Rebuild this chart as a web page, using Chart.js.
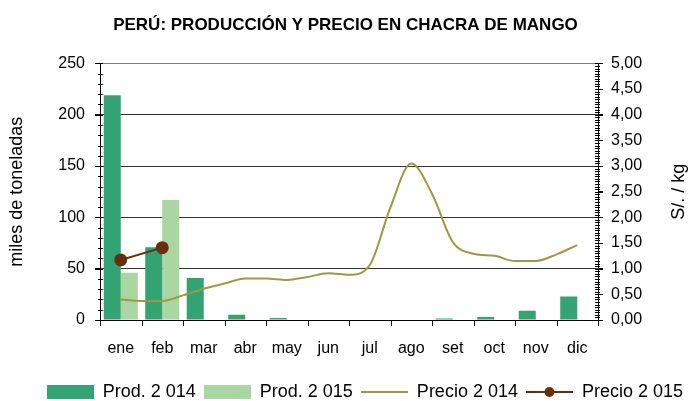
<!DOCTYPE html>
<html>
<head>
<meta charset="utf-8">
<script src="https://cdn.jsdelivr.net/npm/chart.js@4.4.1/dist/chart.umd.min.js"></script>
<style>
html,body{margin:0;padding:0;background:#fff;}
#wrap{width:691px;height:401px;}
</style>
</head>
<body>
<div id="wrap"><canvas id="c" width="691" height="401"></canvas></div>
<script>
// ---- data ----
const months = ['ene','feb','mar','abr','may','jun','jul','ago','set','oct','nov','dic'];
const monthPos = [0, 1, 2, 3, 4, 5, 6, 7, 8, 9, 10, 11];
const prod2014 = [219, 71, 41, 5, 2, 0, 0, 0, 1.5, 3, 9, 23];
const prod2015 = [46, 117, null, null, null, null, null, null, null, null, null, null];
// price 2014: semi-monthly readings (position in months from "ene")
const price2014Pos = [0, 0.5, 1, 1.5, 2, 2.5, 3, 3.5, 4, 4.5, 5, 5.5, 6, 6.5, 7, 7.5, 8, 8.5, 9, 9.5, 10, 10.5, 11];
const price2014 = [0.40, 0.37, 0.37, 0.48, 0.61, 0.71, 0.81, 0.81, 0.78, 0.84, 0.91, 0.88, 1.07, 2.20, 3.05, 2.46, 1.52, 1.29, 1.25, 1.15, 1.15, 1.28, 1.46];
const price2015Pos = [0, 1];
const price2015 = [1.17, 1.41];
const leftTicks = [0, 50, 100, 150, 200, 250];
const rightTicks = ['0,00','0,50','1,00','1,50','2,00','2,50','3,00','3,50','4,00','4,50','5,00'];

const FONT = '"Liberation Sans", Arial, sans-serif';
const C_DARK = '#33a373';
const C_LIGHT = '#aad6a2';
const C_P14 = '#9c9a45';
const C_P15 = '#663010';

function icon(kind, color) {
  const c = document.createElement('canvas');
  c.width = 47; c.height = 14;
  const g = c.getContext('2d');
  if (kind === 'box') {
    g.fillStyle = color; g.fillRect(0, 0, 47, 14);
  } else {
    g.strokeStyle = color; g.lineWidth = 2;
    g.beginPath(); g.moveTo(0, 7); g.lineTo(47, 7); g.stroke();
    if (kind === 'dot') {
      g.fillStyle = color; g.beginPath(); g.arc(23.5, 7, 5, 0, Math.PI * 2); g.fill();
    }
  }
  return c;
}
const icons = [icon('box', C_DARK), icon('box', C_LIGHT), icon('line', C_P14), icon('dot', C_P15)];

const extras = {
  id: 'extras',
  afterDraw(chart) {
    const ctx = chart.ctx;
    const x = chart.scales.x, y = chart.scales.y, y2 = chart.scales.y2, a = chart.chartArea;
    ctx.save();
    ctx.strokeStyle = '#000';
    ctx.lineWidth = 1;
    // x tick marks on category boundaries
    for (let i = 0; i <= months.length; i++) {
      const p = Math.round(x.getPixelForValue(i - 0.5)) + 0.5;
      ctx.beginPath();
      ctx.moveTo(p, a.bottom);
      ctx.lineTo(p, a.bottom + 6);
      ctx.stroke();
    }
    for (let i = 0; i <= 25; i++) {
      const p = Math.round(y.getPixelForValue(i * 10)) + 0.5;
      ctx.beginPath();
      ctx.moveTo(a.left - (i % 5 === 0 ? 5 : 2), p);
      ctx.lineTo(a.left + 3, p);
      ctx.stroke();
    }
    for (let i = 0; i <= 100; i++) {
      const p = Math.round(y2.getPixelForValue(i * 0.05)) + 0.5;
      ctx.beginPath();
      ctx.moveTo(a.right - 3, p);
      ctx.lineTo(a.right + (i % 10 === 0 ? 5 : 2), p);
      ctx.stroke();
    }
    ctx.fillStyle = '#000';
    ctx.font = '18px ' + FONT;
    ctx.textAlign = 'center';
    ctx.textBaseline = 'middle';
    ctx.translate(679, (a.top + a.bottom) / 2);
    ctx.rotate(-Math.PI / 2);
    ctx.fillText('S/. / kg', 0, 0);
    ctx.restore();
  }
};

new Chart(document.getElementById('c'), {
  type: 'bar',
  data: {
    datasets: [
      { label: 'Prod. 2 014', data: prod2014.map((v, i) => ({ x: monthPos[i], y: v })), backgroundColor: C_DARK, yAxisID: 'y', order: 3 },
      { label: 'Prod. 2 015', data: prod2015.map((v, i) => ({ x: monthPos[i], y: v })), backgroundColor: C_LIGHT, yAxisID: 'y', order: 4 },
      { type: 'line', label: 'Precio 2 014', data: price2014.map((v, i) => ({ x: price2014Pos[i], y: v })),
        borderColor: C_P14, backgroundColor: C_P14, borderWidth: 2, pointRadius: 0, cubicInterpolationMode: 'monotone',
        yAxisID: 'y2', order: 2 },
      { type: 'line', label: 'Precio 2 015', data: price2015.map((v, i) => ({ x: price2015Pos[i], y: v })),
        borderColor: C_P15, backgroundColor: C_P15, borderWidth: 2, pointRadius: 5.5, pointHoverRadius: 5.5,
        yAxisID: 'y2', order: 1 }
    ]
  },
  options: {
    responsive: false,
    animation: false,
    layout: { padding: { left: 0, right: 0, top: 0, bottom: -10 } },
    datasets: { bar: { categoryPercentage: 0.82, barPercentage: 1.0 } },
    plugins: {
      tooltip: { enabled: false },
      title: {
        display: true,
        text: 'PERÚ: PRODUCCIÓN Y PRECIO EN CHACRA DE MANGO',
        color: '#000',
        font: { family: FONT, size: 17, weight: 'bold', lineHeight: 1.2 },
        padding: { top: 15, bottom: 28 }
      },
      legend: {
        position: 'bottom',
        align: 'end',
        labels: {
          color: '#000',
          font: { family: FONT, size: 18 },
          usePointStyle: true,
          pointStyleWidth: 47,
          boxHeight: 14,
          padding: 8,
          generateLabels(chart) {
            return chart.data.datasets.map((ds, i) => ({
              text: ds.label, pointStyle: icons[i], datasetIndex: i, hidden: false,
              fillStyle: ds.backgroundColor, strokeStyle: ds.borderColor || ds.backgroundColor, lineWidth: 0, fontColor: '#000'
            }));
          }
        }
      }
    },
    scales: {
      x: {
        type: 'linear',
        min: -0.5, max: 11.5,
        offset: false,
        afterBuildTicks(s) { s.ticks = monthPos.map(v => ({ value: v })); },
        grid: { offset: false, drawOnChartArea: false, drawTicks: false },
        border: { color: '#000', width: 1 },
        ticks: { color: '#000', font: { family: FONT, size: 16 }, padding: 19, maxRotation: 0, autoSkip: false,
          callback: (v, i) => months[i] },
        afterFit(s) { s.height = 55; }
      },
      y: {
        position: 'left',
        min: 0, max: 250,
        afterBuildTicks(s) { s.ticks = leftTicks.map(v => ({ value: v })); },
        grid: { color: (c) => (c.tick && c.tick.value === 250 ? '#7f7f7f' : '#333'), lineWidth: 1, tickLength: 5, tickColor: '#000' },
        border: { color: '#000', width: 1 },
        ticks: { color: '#000', font: { family: FONT, size: 16 }, padding: 10 },
        title: { display: true, text: 'miles de toneladas', color: '#000', font: { family: FONT, size: 18 }, padding: { top: 6, bottom: 0 } },
        afterFit(s) { s.width = 100; }
      },
      y2: {
        position: 'right',
        min: 0, max: 5,
        afterBuildTicks(s) { s.ticks = rightTicks.map((t, i) => ({ value: i * 0.5 })); },
        grid: { drawOnChartArea: false, tickLength: 5, tickColor: '#000' },
        border: { color: '#000', width: 1 },
        ticks: { color: '#000', font: { family: FONT, size: 16 }, padding: 8,
          callback: (v, i) => rightTicks[i] },
        afterFit(s) { s.width = 93; }
      }
    }
  },
  plugins: [extras]
});
</script>
</body>
</html>
